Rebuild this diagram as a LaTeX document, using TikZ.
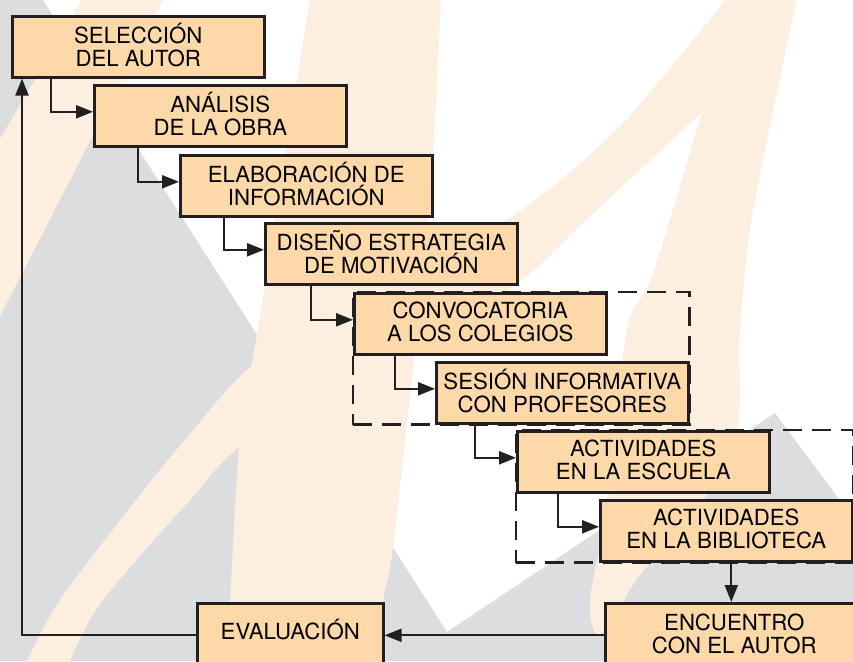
\documentclass[tikz,border=0pt]{standalone}
\usepackage{fontspec}
\setmainfont{TeX Gyre Heros}
\usetikzlibrary{arrows.meta,calc,fit}
\definecolor{bd}{RGB}{35,31,32}
\definecolor{boxfill}{RGB}{253,217,169}
\definecolor{bggray}{RGB}{220,221,223}
\definecolor{bgpeach}{RGB}{253,239,223}
\begin{document}
\begin{tikzpicture}[x=1pt,y=-1pt,
  stepbox/.style={draw=bd, line width=2.6pt, fill=boxfill, minimum width=252pt, minimum height=61pt,
    anchor=north west, align=center, inner sep=0pt, text depth=4pt, font=\fontsize{22.2}{23}\selectfont},
  endbox/.style={stepbox, minimum height=64pt},
  conn/.style={draw=bd, line width=2.2pt, -{Triangle[length=17pt,width=13pt]}},
  grp/.style={draw=bd, line width=2.4pt, dash pattern=on 19pt off 10pt, inner sep=0pt},
  gr/.style={fill=bggray},
  pk/.style={fill=bgpeach}]
\useasboundingbox (0,0) rectangle (853,661);
\clip (0,0) rectangle (853,661);
% background decoration
\fill[white] (0,0) rectangle (853,661);
\fill[gr] (0,0) -- (43,0) -- (447,632) -- (775,413) -- (853,518) -- (853,661) -- (0,661) -- cycle;
\fill[pk] (82,0) -- (163,0) -- (0,316) -- (0,139) -- cycle;
\fill[pk] plot[smooth] coordinates {(310,-2) (283,170) (261,310) (240,440) (230,602) (226,665)}
  -- plot[smooth] coordinates {(380,665) (383,602) (393,547) (417,330) (432,170) (441,-2)} -- cycle;
\fill[pk] plot[smooth] coordinates {(727,-2) (620,126) (520,211) (390,287) (257,362) (185,440) (136,500) (60,600) (27,661) (20,675)}
  -- plot[smooth] coordinates {(75,675) (70,661) (103,600) (190,500) (245,443) (380,365) (513,287) (587,219) (702,112)}
  -- plot[smooth] coordinates {(702,112) (653,274) (627,330) (607,506) (590,600) (597,635) (615,615) (640,575) (700,505) (737,430) (740,330) (753,211) (797,-2)} -- cycle;
% boxes
\node[stepbox] (b1) at (11,15) {SELECCIÓN\\DEL AUTOR};
\node[stepbox] (b2) at (93,84) {ANÁLISIS\\DE LA OBRA};
\node[stepbox] (b3) at (179,154) {ELABORACIÓN DE\\INFORMACIÓN};
\node[stepbox] (b4) at (264,222) {DISEÑO ESTRATEGIA\\DE MOTIVACIÓN};
\node[stepbox] (b5) at (353,292) {CONVOCATORIA\\A LOS COLEGIOS};
\node[stepbox] (b6) at (435,361) {SESIÓN INFORMATIVA\\CON PROFESORES};
\node[stepbox] (b7) at (516,430) {ACTIVIDADES\\EN LA ESCUELA};
\node[stepbox] (b8) at (599,499) {ACTIVIDADES\\EN LA BIBLIOTECA};
\node[endbox, minimum width=258pt] (ec) at (604,602) {ENCUENTRO\\CON EL AUTOR};
\node[endbox, minimum width=186pt, text depth=12pt] (ev) at (196,602) {EVALUACIÓN};
% dashed groups
\node[grp, fit=(b5)(b6)] (g1) {};
\node[grp, fit=(b7)(b8)] (g2) {};
% connectors
\draw[conn] ([xshift=40pt]b1.south west) |- ([yshift=4pt]b2.west);
\draw[conn] ([xshift=45pt]b2.south west) |- ([yshift=4pt]b3.west);
\draw[conn] ([xshift=45pt]b3.south west) |- ([yshift=4pt]b4.west);
\draw[conn] ([xshift=47pt]b4.south west) |- ([yshift=4pt]b5.west);
\draw[conn] ([xshift=42pt]b5.south west) |- ([yshift=4pt]b6.west);
\draw[conn] ([xshift=40pt]b6.south west) |- ([yshift=4pt]b7.west);
\draw[conn] ([xshift=42pt]b7.south west) |- ([yshift=4pt]b8.west);
\draw[conn] ([xshift=5pt]b8.south) -- ([xshift=5pt]b8.south |- ec.north);
\draw[conn] (ec.west) -- (ev.east);
\draw[conn] (ev.west) -| ([xshift=11pt]b1.south west);
\end{tikzpicture}
\end{document}
